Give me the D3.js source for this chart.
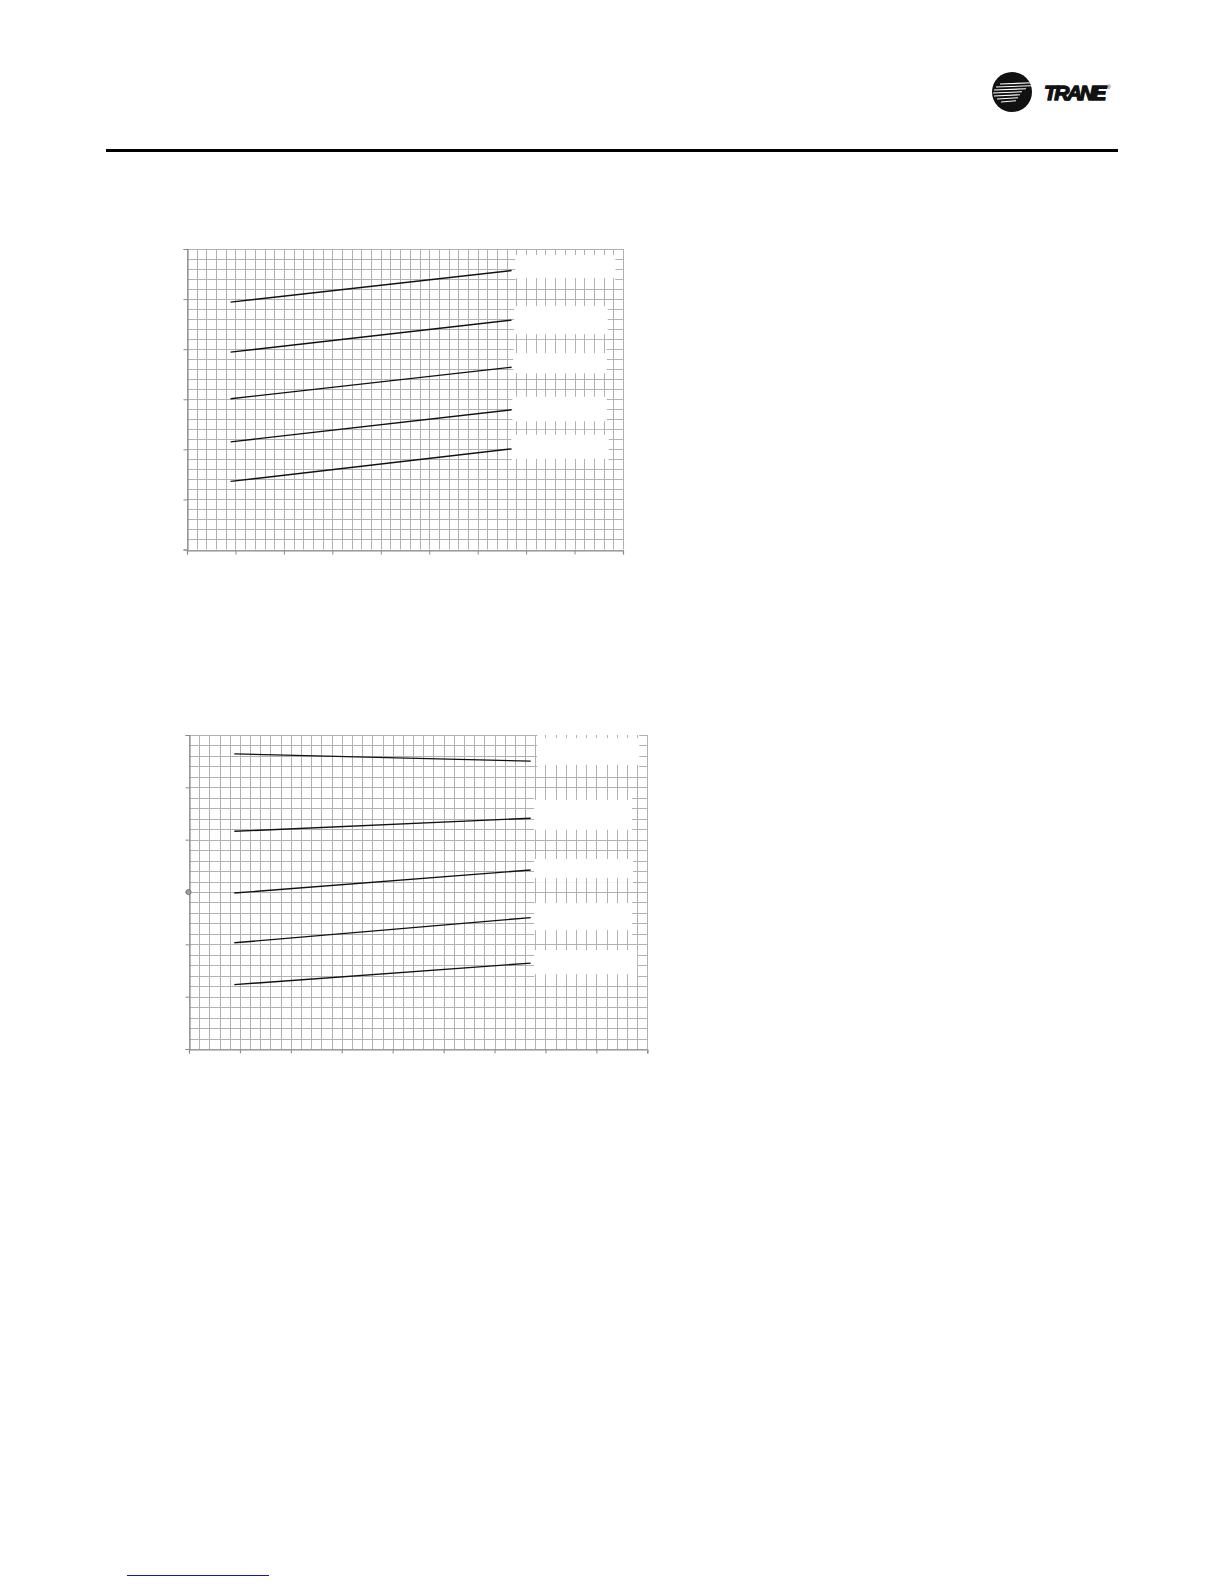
<!DOCTYPE html>
<html>
<head>
<meta charset="utf-8">
<script src="https://cdn.jsdelivr.net/npm/d3@7"></script>
<style>
  html, body { margin: 0; padding: 0; background: #fff; }
  svg { display: block; }
</style>
</head>
<body>
<svg id="page" width="1224" height="1584"></svg>
<script>
// ---------- DATA ----------
const xDomain = [0, 9];
const yDomain = [0, 6];
const xMajorTicks = [0, 1, 2, 3, 4, 5, 6, 7, 8, 9];
const yMajorTicks = [0, 1, 2, 3, 4, 5, 6];

// Chart 1 (upper)
const chart1X = [0.9, 6.7];
const chart1Series = [
  [4.94, 5.57],
  [3.94, 4.58],
  [3.01, 3.64],
  [2.15, 2.79],
  [1.36, 2.01]
];
// blanked label boxes: [x0, x1, yTop, yBottom] in data units
const chart1Boxes = [
  [6.78, 8.84, 5.88, 5.42],
  [6.76, 8.68, 4.86, 4.30],
  [6.74, 8.66, 3.92, 3.52],
  [6.72, 8.66, 3.05, 2.56],
  [6.70, 8.70, 2.29, 1.81]
];

// Chart 2 (lower)
const chart2X = [0.89, 6.71];
const chart2Series = [
  [5.64, 5.50],
  [4.16, 4.41],
  [2.98, 3.42],
  [2.03, 2.51],
  [1.23, 1.64]
];
const chart2Boxes = [
  [6.84, 8.84, 5.94, 5.43],
  [6.78, 8.70, 4.76, 4.19],
  [6.78, 8.72, 3.63, 3.27],
  [6.78, 8.70, 2.79, 2.27],
  [6.78, 8.80, 1.89, 1.43]
];
const chart2Marker = [0, 3];

// ---------- DRAW ----------
const svg = d3.select("#page");
svg.append("rect").attr("width", 1224).attr("height", 1584).attr("fill", "#fff");

// header rule
svg.append("line").attr("x1", 106).attr("x2", 1118).attr("y1", 150.5).attr("y2", 150.5)
  .attr("stroke", "#000").attr("stroke-width", 3);

// logo
const logo = svg.append("g");
logo.append("circle").attr("cx", 1012).attr("cy", 92).attr("r", 20).attr("fill", "#111");
const clip = svg.append("defs").append("clipPath").attr("id", "logoClip");
clip.append("circle").attr("cx", 1012).attr("cy", 92).attr("r", 20);
const streaks = [
  [84, 1000, 1032], [87, 996, 1031], [90, 994, 1026], [93, 993, 1022],
  [96, 994, 1020], [99, 997, 1018], [102, 1001, 1016]
];
logo.append("g").attr("clip-path", "url(#logoClip)")
  .selectAll("line").data(streaks).join("line")
  .attr("x1", d => d[1]).attr("x2", d => d[2])
  .attr("y1", d => d[0]).attr("y2", d => d[0] - 1.2)
  .attr("stroke", "#fff").attr("stroke-width", 1.1);
logo.append("text").attr("x", 1044).attr("y", 100)
  .attr("font-family", "Liberation Sans, Arial, sans-serif")
  .attr("font-weight", "bold").attr("font-style", "italic")
  .attr("font-size", 21).attr("letter-spacing", -0.5).attr("fill", "#111")
  .attr("stroke", "#111").attr("stroke-width", 1.3).attr("stroke-linejoin", "round")
  .attr("textLength", 62).text("TRANE");
logo.append("text").attr("x", 1107).attr("y", 89)
  .attr("font-family", "Liberation Sans, Arial, sans-serif")
  .attr("font-size", 5).attr("fill", "#111").text("®");

// footer link line
svg.append("line").attr("x1", 127).attr("x2", 269).attr("y1", 1575.5).attr("y2", 1575.5)
  .attr("stroke", "#1a1aa0").attr("stroke-width", 1.2);

function drawChart(cfg) {
  const x = d3.scaleLinear().domain(xDomain).range([cfg.left, cfg.right]);
  const y = d3.scaleLinear().domain(yDomain).range([cfg.bottom, cfg.top]);
  const g = svg.append("g");
  const gridColor = "#b2b2b2";

  const xMinor = x.ticks(45);
  const yMinor = y.ticks(30);

  // horizontal grid
  g.append("g").selectAll("line").data(yMinor).join("line")
    .attr("x1", x(xDomain[0])).attr("x2", x(xDomain[1]))
    .attr("y1", d => Math.round(y(d)) + 0.5).attr("y2", d => Math.round(y(d)) + 0.5)
    .attr("stroke", gridColor).attr("stroke-width", 1);

  // erase horizontal lines around label boxes
  g.append("g").selectAll("rect").data(cfg.boxes).join("rect")
    .attr("x", d => x(d[0])).attr("width", d => x(d[1]) - x(d[0]))
    .attr("y", d => y(d[2]) - 5).attr("height", d => y(d[3]) - y(d[2]) + 10)
    .attr("fill", "#fff");

  // vertical grid
  g.append("g").selectAll("line").data(xMinor).join("line")
    .attr("y1", y(yDomain[0])).attr("y2", y(yDomain[1]))
    .attr("x1", d => Math.round(x(d)) + 0.5).attr("x2", d => Math.round(x(d)) + 0.5)
    .attr("stroke", gridColor).attr("stroke-width", 1);

  // label boxes (blank)
  g.append("g").selectAll("rect").data(cfg.boxes).join("rect")
    .attr("x", d => x(d[0])).attr("width", d => x(d[1]) - x(d[0]))
    .attr("y", d => y(d[2])).attr("height", d => y(d[3]) - y(d[2]))
    .attr("fill", "#fff");

  // axes
  const yAxis = d3.axisLeft(y).tickValues(yMajorTicks).tickSize(4).tickFormat("");
  const xAxis = d3.axisBottom(x).tickValues(xMajorTicks).tickSize(4).tickFormat("");
  const ya = g.append("g").attr("transform", `translate(${Math.round(x(0)) + 0.5},0)`).call(yAxis);
  const xa = g.append("g").attr("transform", `translate(0,${Math.round(y(0)) + 0.5})`).call(xAxis);
  [ya, xa].forEach(a => {
    a.selectAll("path").attr("stroke", "#8a8a8a").attr("stroke-width", 1.2);
    a.selectAll("line").attr("stroke", "#8a8a8a");
  });

  // series lines
  const line = d3.line().x((d, i) => x(cfg.xs[i])).y(d => y(d));
  g.append("g").selectAll("path").data(cfg.series).join("path")
    .attr("d", d => line(d))
    .attr("fill", "none").attr("stroke", "#111").attr("stroke-width", 1.4);

  if (cfg.marker) {
    g.append("circle").attr("cx", x(cfg.marker[0]) - 0.5).attr("cy", y(cfg.marker[1]))
      .attr("r", 2.6).attr("fill", "#a0a0a0").attr("stroke", "#666").attr("stroke-width", 0.8);
  }
}

drawChart({ left: 187, right: 623, top: 249, bottom: 549.5,
  xs: chart1X, series: chart1Series, boxes: chart1Boxes });
drawChart({ left: 189, right: 647.3, top: 735, bottom: 1049,
  xs: chart2X, series: chart2Series, boxes: chart2Boxes, marker: chart2Marker });
</script>
</body>
</html>
